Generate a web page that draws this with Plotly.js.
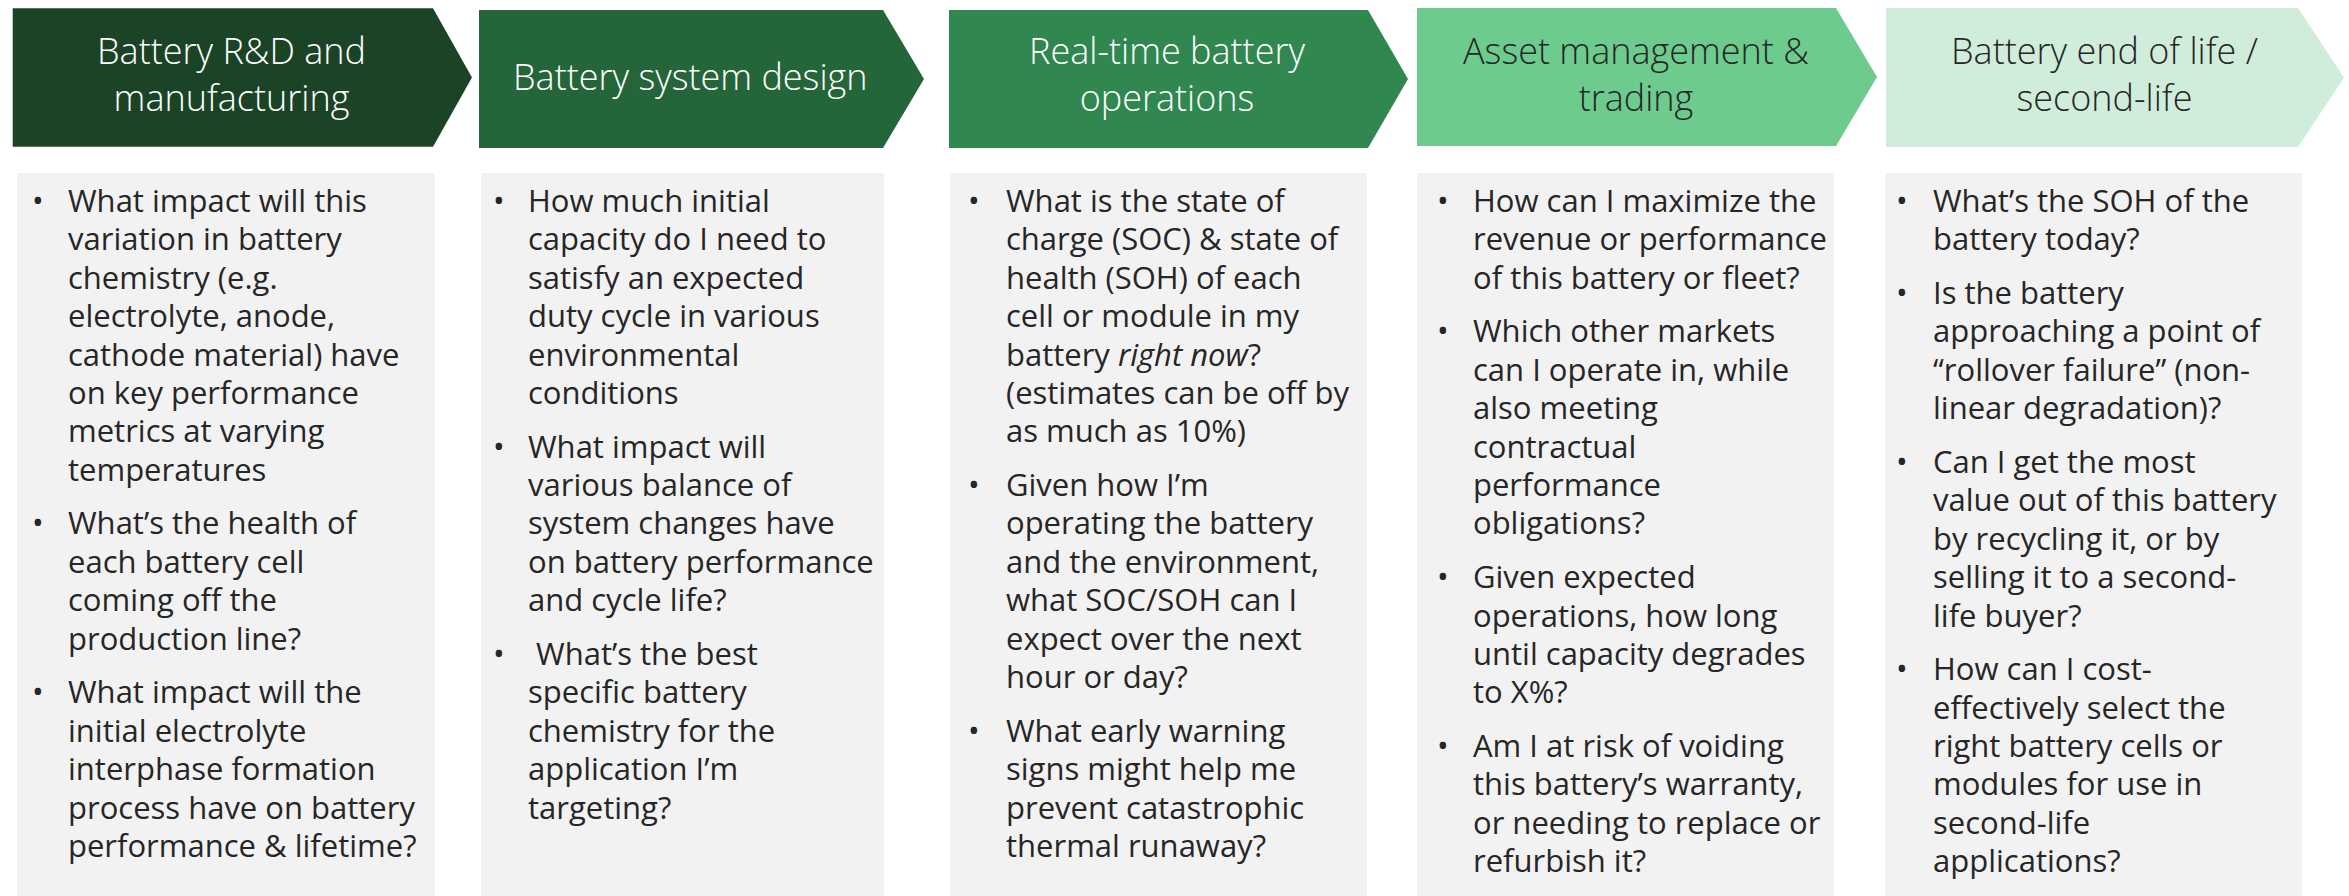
<!DOCTYPE html>
<html><head><meta charset="utf-8">
<script src="https://cdn.plot.ly/plotly-3.0.1.min.js"></script>
<style>html,body{margin:0;padding:0;background:#fff;overflow:hidden}</style>
</head><body>
<div id="chart" style="width:2349px;height:896px"></div>
<script>
// ---------- content ----------
const stageTitles = [
  ["Battery R&D and", "manufacturing"],
  ["Battery system design"],
  ["Real-time battery", "operations"],
  ["Asset management &", "trading"],
  ["Battery end of life /", "second-life"]
];
const questionsRD = [
  ["What impact will this", "variation in battery", "chemistry (e.g.", "electrolyte, anode,", "cathode material) have", "on key performance", "metrics at varying", "temperatures"],
  ["What’s the health of", "each battery cell", "coming off the", "production line?"],
  ["What impact will the", "initial electrolyte", "interphase formation", "process have on battery", "performance & lifetime?"]
];
const questionsDesign = [
  ["How much initial", "capacity do I need to", "satisfy an expected", "duty cycle in various", "environmental", "conditions"],
  ["What impact will", "various balance of", "system changes have", "on battery performance", "and cycle life?"],
  [" What’s the best", "specific battery", "chemistry for the", "application I’m", "targeting?"]
];
const questionsOps = [
  ["What is the state of", "charge (SOC) & state of", "health (SOH) of each", "cell or module in my", "battery <i>right now</i>?", "(estimates can be off by", "as much as 10%)"],
  ["Given how I’m", "operating the battery", "and the environment,", "what SOC/SOH can I", "expect over the next", "hour or day?"],
  ["What early warning", "signs might help me", "prevent catastrophic", "thermal runaway?"]
];
const questionsAsset = [
  ["How can I maximize the", "revenue or performance", "of this battery or fleet?"],
  ["Which other markets", "can I operate in, while", "also meeting", "contractual", "performance", "obligations?"],
  ["Given expected", "operations, how long", "until capacity degrades", "to X%?"],
  ["Am I at risk of voiding", "this battery’s warranty,", "or needing to replace or", "refurbish it?"]
];
const questionsEOL = [
  ["What’s the SOH of the", "battery today?"],
  ["Is the battery", "approaching a point of", "“rollover failure” (non-", "linear degradation)?"],
  ["Can I get the most", "value out of this battery", "by recycling it, or by", "selling it to a second-", "life buyer?"],
  ["How can I cost-", "effectively select the", "right battery cells or", "modules for use in", "second-life", "applications?"]
];
const stageQuestions = [questionsRD, questionsDesign, questionsOps, questionsAsset, questionsEOL];

// ---------- styles / geometry ----------
const arrowFill = ['#1b4427', '#24663a', '#30874f', '#6dcb8e', '#d0eddb'];
const titleColor = ['#ffffff', '#ffffff', '#ffffff', '#262626', '#262626'];
const arrowLeft = [12.7, 479, 949, 1417, 1886];
const arrowBodyEnd = [433, 883, 1368, 1836, 2298];
const arrowTip = [472, 924, 1408, 1877, 2344];
const arrowTop = [8.3, 10, 10, 8, 8];
const arrowBottom = [146.7, 148, 148, 146, 147];
const titleCenter = [231, 690, 1167, 1636, 2104];
const boxLeft = [17, 481, 950, 1417, 1885];
const boxRight = [435, 884, 1367, 1834, 2302];
const boxTop = 173, boxBottom = 896;
const bulletX = [37.5, 499, 973.5, 1442.5, 1901.5];
const textX = [68, 528, 1006, 1473, 1933];

const FONT = '"Open Sans", "Noto Sans", sans-serif';
const bodySize = 31, titleSize = 36;
const lineStep = 38.4, bulletStep = 53.7, firstBaseline = 212;
const K = 0.388; // bbox center offset above baseline (em)
const textColor = '#262626';

const shapes = [];
const annotations = [];

function addText(x, baseline, text, size, color, xanchor, weight) {
  annotations.push({
    x: x, y: baseline - K * size, xref: 'x', yref: 'y',
    text: text, showarrow: false, xanchor: xanchor, yanchor: 'middle', align: 'center',
    borderpad: 0, borderwidth: 0,
    font: {family: FONT, size: size, color: color, weight: weight || 400}
  });
}

for (let i = 0; i < 5; i++) {
  const yMid = (arrowTop[i] + arrowBottom[i]) / 2;
  shapes.push({
    type: 'path', xref: 'x', yref: 'y', layer: 'below',
    path: `M ${arrowLeft[i]},${arrowTop[i]} L ${arrowBodyEnd[i]},${arrowTop[i]} L ${arrowTip[i]},${yMid} L ${arrowBodyEnd[i]},${arrowBottom[i]} L ${arrowLeft[i]},${arrowBottom[i]} Z`,
    fillcolor: arrowFill[i], line: {width: 0}
  });
  shapes.push({
    type: 'rect', xref: 'x', yref: 'y', layer: 'below',
    x0: boxLeft[i], x1: boxRight[i], y0: boxTop, y1: boxBottom,
    fillcolor: '#f2f2f2', line: {width: 0}
  });
  // title (one block, lines centred)
  const midBaseline = stageTitles[i].length === 2 ? 87.5 : 90;
  addText(titleCenter[i], midBaseline, stageTitles[i].join('<br>'), titleSize, titleColor[i], 'center', 300);
  // bullets
  let b = firstBaseline;
  stageQuestions[i].forEach((q, qi) => {
    if (qi > 0) b += bulletStep;
    addText(bulletX[i], b, '•', bodySize, textColor, 'center');
    q.forEach((line, li) => {
      if (li > 0) b += lineStep;
      annotations.push({
        x: textX[i], y: b - K * bodySize, xref: 'x', yref: 'y',
        text: line, showarrow: false, xanchor: 'left', yanchor: 'middle',
        borderpad: 0, borderwidth: 0,
        font: {family: FONT, size: bodySize, color: textColor}
      });
    });
  });
}

const layout = {
  width: 2349, height: 896,
  margin: {l: 0, r: 0, t: 0, b: 0, pad: 0},
  paper_bgcolor: '#ffffff', plot_bgcolor: '#ffffff',
  showlegend: false,
  xaxis: {range: [0, 2349], visible: false, fixedrange: true},
  yaxis: {range: [896, 0], visible: false, fixedrange: true},
  shapes: shapes, annotations: annotations
};
Plotly.newPlot('chart', [{x: [], y: [], type: 'scatter', mode: 'markers', hoverinfo: 'skip'}], layout, {staticPlot: true, displayModeBar: false});
</script>
</body></html>
